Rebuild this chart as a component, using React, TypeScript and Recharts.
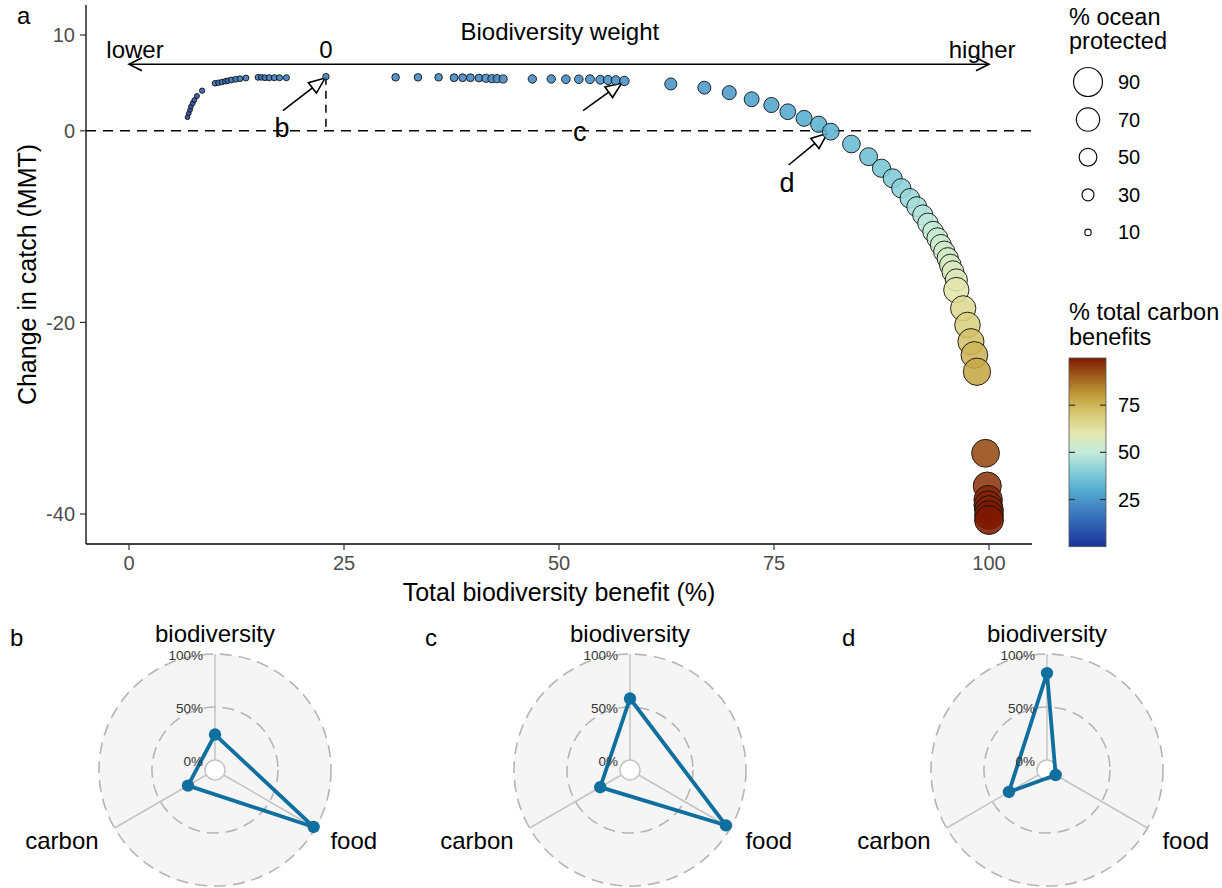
import React from 'react';
import {
  ScatterChart, Scatter, XAxis, YAxis, ReferenceLine, ReferenceDot, Label,
  RadarChart, Radar, PolarGrid, PolarAngleAxis, PolarRadiusAxis,
} from 'recharts';

const FONT = '"Liberation Sans", Arial, Helvetica, sans-serif';

// ---------- Panel a data ----------
const biodiversityBenefit = [
  6.8, 6.95, 7.1, 7.2, 7.4, 7.6, 7.9, 8.5,
  10.0, 10.4, 10.8, 11.2, 11.5, 11.9, 12.4, 12.9, 13.6, 15.0, 15.4, 15.8, 16.3, 16.9, 17.5, 18.3,
  22.9,
  31.0, 33.6, 36.0, 37.8, 38.8, 39.7, 40.7, 41.5, 42.2, 42.8, 43.5, 46.9, 49.1, 50.8, 52.3, 53.6, 54.8, 55.7, 56.6, 57.6,
  63.0, 66.9, 69.8, 72.4, 74.7, 76.6, 78.5, 80.2, 81.6, 84.0, 86.0, 87.5,
  88.8, 89.8, 90.8, 91.6, 92.3, 92.9, 93.5, 94.0, 94.4, 94.8, 95.2, 95.5, 95.8, 96.2,
  96.2, 97.0, 97.5, 97.9, 98.3, 98.6,
  99.6, 99.8, 99.9, 99.9, 100, 100, 100,
];
const catchChange = [
  1.41, 1.83, 2.17, 2.52, 2.87, 3.2, 3.63, 4.19,
  4.96, 5.02, 5.09, 5.17, 5.23, 5.3, 5.38, 5.44, 5.51, 5.58, 5.58, 5.54, 5.54, 5.54, 5.54, 5.54,
  5.65,
  5.58, 5.58, 5.58, 5.54, 5.54, 5.54, 5.51, 5.48, 5.44, 5.44, 5.41, 5.41, 5.41, 5.38, 5.38, 5.38, 5.33, 5.3, 5.27, 5.2,
  4.89, 4.5, 3.98, 3.29, 2.69, 1.99, 1.3, 0.68, -0.09, -1.38, -2.7, -3.91,
  -4.96, -6.0, -7.05, -7.92, -8.79, -9.66, -10.53, -11.22, -11.92, -12.62, -13.31, -14.01, -14.71, -15.57,
  -16.62, -18.53, -20.27, -22.01, -23.4, -25.15,
  -33.66, -37.08, -38.5, -39.06, -39.58, -40.1, -40.63,
];
const oceanProtected = [
  4, 4, 4, 4, 5, 5, 5, 6,
  7, 7, 7, 7, 7, 8, 8, 8, 8, 8, 8, 8, 9, 9, 9, 9,
  10,
  14, 14, 14, 15, 15, 15, 15, 16, 16, 16, 16, 17, 17, 18, 18, 19, 19, 20, 20, 21,
  30, 33, 37, 40, 41, 43, 44, 45, 47, 50, 51, 52,
  55, 56, 57, 58, 59, 60, 61, 62, 62, 63, 63, 64, 65, 66,
  77, 77, 78, 80, 82, 84,
  86, 87, 88, 88, 89, 89, 90,
];
const carbonBenefit = [
  4, 4, 5, 5, 6, 7, 8, 10,
  14, 14, 15, 15, 15, 16, 16, 16, 17, 17, 17, 17, 18, 18, 18, 18,
  20,
  21, 21, 21, 21, 21, 21, 21, 22, 22, 22, 22, 22, 22, 22, 22, 23, 23, 23, 23, 23,
  24, 25, 26, 27, 28, 29, 30, 31, 32, 34, 35, 37,
  39, 41, 43, 45, 47, 49, 51, 52, 53, 54, 55, 56, 57, 58,
  61, 65, 68, 72, 75, 78,
  93, 96, 98, 99, 99, 100, 100,
];

const xTicks = [0, 25, 50, 75, 100];
const yTicks = [-40, -20, 0, 10];
const sizeBreaks = [90, 70, 50, 30, 10];
const colorBreaks = [75, 50, 25];

// ---------- Panels b-d data ----------
const radarAxes = ['biodiversity', 'food', 'carbon'];
const radarB = [24, 98, 20];
const radarC = [58, 95, 23];
const radarD = [82, 0, 32];
const radarPanels = [
  { id: 'b', values: radarB },
  { id: 'c', values: radarC },
  { id: 'd', values: radarD },
];

// ---------- scales ----------
const COLOR_STOPS: [number, string][] = [
  [0, '#1A3399'], [10, '#2D5AB0'], [20, '#3F82C1'], [30, '#55ACD0'], [40, '#84CFD8'],
  [50, '#C3EADA'], [60, '#E3E8B2'], [70, '#D8CA74'], [80, '#C29E3B'], [90, '#A0601C'], [100, '#7E1900'],
];
const hexRgb = (h: string) => [1, 3, 5].map((i) => parseInt(h.slice(i, i + 2), 16));
function carbonColor(v: number): string {
  const t = Math.max(0, Math.min(100, v));
  for (let i = 0; i < COLOR_STOPS.length - 1; i++) {
    const [a, ca] = COLOR_STOPS[i];
    const [b, cb] = COLOR_STOPS[i + 1];
    if (t <= b) {
      const f = (t - a) / (b - a);
      const A = hexRgb(ca), B = hexRgb(cb);
      const c = A.map((x, k) => Math.round(x + (B[k] - x) * f));
      return `rgb(${c[0]},${c[1]},${c[2]})`;
    }
  }
  return COLOR_STOPS[COLOR_STOPS.length - 1][1];
}
const pointRadius = (p: number) => 1.79 + 0.141 * p;

const scatterRows = biodiversityBenefit.map((x, i) => ({
  x, y: catchChange[i], protected: oceanProtected[i], carbon: carbonBenefit[i],
}));

// ---------- shapes ----------
const Bubble = (props: any) => {
  const { cx, cy, payload } = props;
  if (cx == null || cy == null) return null;
  return (
    <circle cx={cx} cy={cy} r={pointRadius(payload.protected)} fill={carbonColor(payload.carbon)}
      fillOpacity={0.88} stroke="#111" strokeOpacity={0.9} strokeWidth={1} />
  );
};

const DoubleArrow = (p: any) => {
  const { x1, y1, x2, y2 } = p;
  const L = 13, W = 6.5;
  const a = Math.min(x1, x2), b = Math.max(x1, x2), y = y1;
  return (
    <g>
      <line x1={a} y1={y} x2={b} y2={y2} stroke="#000" strokeWidth={1.6} />
      <polyline points={`${a + L},${y - W} ${a},${y} ${a + L},${y + W}`} fill="none" stroke="#000" strokeWidth={1.6} />
      <polyline points={`${b - L},${y - W} ${b},${y} ${b - L},${y + W}`} fill="none" stroke="#000" strokeWidth={1.6} />
    </g>
  );
};

const PointerArrow = (p: any) => {
  const { x1, y1, x2, y2 } = p;
  const dx = x2 - x1, dy = y2 - y1;
  const len = Math.hypot(dx, dy) || 1;
  const ux = dx / len, uy = dy / len;
  const L = 16, W = 6.5;
  const bx = x2 - ux * L, by = y2 - uy * L;
  const px = -uy, py = ux;
  return (
    <g>
      <line x1={x1} y1={y1} x2={bx} y2={by} stroke="#000" strokeWidth={1.6} />
      <polygon points={`${x2},${y2} ${bx + px * W},${by + py * W} ${bx - px * W},${by - py * W}`}
        fill="#fff" stroke="#000" strokeWidth={1.6} strokeLinejoin="miter" />
    </g>
  );
};

const textShape = (text: string, size: number) => (p: any) => (
  <text x={p.cx} y={p.cy} textAnchor="middle" dominantBaseline="central" fontSize={size}
    fontFamily={FONT} fill="#000">{text}</text>
);

const annotations = [
  { label: 'b', from: { x: 17.9, y: 2.1 }, to: { x: 22.8, y: 5.5 }, at: { x: 17.8, y: 0.25 } },
  { label: 'c', from: { x: 52.8, y: 2.1 }, to: { x: 57.3, y: 5.0 }, at: { x: 52.4, y: -0.15 } },
  { label: 'd', from: { x: 76.7, y: -3.57 }, to: { x: 81.2, y: -0.26 }, at: { x: 76.5, y: -5.4 } },
];

// ---------- radar ticks ----------
const RADAR_BLUE = '#0f6f9e';
const AngleTick = (p: any) => {
  const v = p.payload?.value;
  let dx = 0, dy = -13, anchor: any = 'middle';
  if (v === 'food') { dx = 8; dy = 8; anchor = 'start'; }
  if (v === 'carbon') { dx = -9; dy = 8; anchor = 'end'; }
  return (
    <text x={p.x + dx} y={p.y + dy} textAnchor={anchor} dominantBaseline="central"
      fontSize={24} fontFamily={FONT} fill="#000">{v}</text>
  );
};
const RadiusTick = (p: any) => (
  <text x={p.x - 12} y={p.y + 1} textAnchor="end" dominantBaseline="central" fontSize={13.5}
    fontFamily={FONT} fill="#333">{`${p.payload?.value}%`}</text>
);
const RadarDot = (p: any) => (
  p.cx == null ? null : <circle cx={p.cx} cy={p.cy} r={6.2} fill={RADAR_BLUE} stroke="none" />
);

function RadarPanel({ id, values, left }: { id: string; values: number[]; left: number }) {
  const data = radarAxes.map((axis, i) => ({ axis, value: values[i] }));
  return (
    <div style={{ position: 'absolute', left, top: 620, width: 400, height: 268 }}>
      <svg width={400} height={268} style={{ position: 'absolute', left: 0, top: 0 }}>
        <circle cx={215} cy={150} r={116} fill="#f5f5f5" />
        <circle cx={215} cy={150} r={10} fill="#fff" />
      </svg>
      <div style={{ position: 'absolute', left: 0, top: 0 }}>
        <RadarChart width={400} height={268} cx={215} cy={150} innerRadius={10} outerRadius={116}
          startAngle={90} endAngle={-270} data={data} margin={{ top: 0, right: 0, bottom: 0, left: 0 }}>
          <PolarGrid gridType="circle" polarRadius={[10]} stroke="#c4c4c4" strokeWidth={1.5} />
          <PolarGrid gridType="circle" polarRadius={[63, 116]} radialLines={false} stroke="#b5b5b5"
            strokeWidth={1.6} strokeDasharray="12 7" />
          <PolarAngleAxis dataKey="axis" tick={AngleTick} axisLine={false} tickLine={false} />
          <PolarRadiusAxis angle={90} domain={[0, 100]} tickCount={3} tick={RadiusTick}
            axisLine={false} tickLine={false} />
          <Radar dataKey="value" stroke={RADAR_BLUE} strokeWidth={3.8} fill="none" fillOpacity={0}
            dot={RadarDot} isAnimationActive={false} />
        </RadarChart>
      </div>
      <div style={{ position: 'absolute', left: 10, top: 4, fontSize: 24, lineHeight: '28px' }}>{id}</div>
    </div>
  );
}

function SideLegends() {
  const barX = 1069, barW = 37, barTop = 358, barBottom = 546.7;
  const vy = (v: number) => barBottom - (v / 100) * (barBottom - barTop);
  return (
    <svg width={1222} height={600} style={{ position: 'absolute', left: 0, top: 0, pointerEvents: 'none' }}>
      <defs>
        <linearGradient id="carbonGrad" x1="0" y1="1" x2="0" y2="0">
          {COLOR_STOPS.map(([v]) => (
            <stop key={v} offset={`${v}%`} stopColor={carbonColor(v)} />
          ))}
        </linearGradient>
      </defs>
      <text x={17} y={15} dominantBaseline="central" fontSize={24} fontFamily={FONT}>a</text>
      <text x={1069} y={17} dominantBaseline="central" fontSize={23.5} fontFamily={FONT}>% ocean</text>
      <text x={1069} y={41} dominantBaseline="central" fontSize={23.5} fontFamily={FONT}>protected</text>
      {sizeBreaks.map((b, i) => {
        const cy = 82 + i * 37.6;
        return (
          <g key={b}>
            <circle cx={1088} cy={cy} r={pointRadius(b)} fill="#fff" stroke="#111" strokeWidth={1.2} />
            <text x={1118} y={cy} dominantBaseline="central" fontSize={20} fontFamily={FONT}>{b}</text>
          </g>
        );
      })}
      <text x={1069} y={312} dominantBaseline="central" fontSize={23.5} fontFamily={FONT}>% total carbon</text>
      <text x={1069} y={337} dominantBaseline="central" fontSize={23.5} fontFamily={FONT}>benefits</text>
      <rect x={barX} y={barTop} width={barW} height={barBottom - barTop} fill="url(#carbonGrad)"
        stroke="#555" strokeWidth={0.8} />
      {colorBreaks.map((b) => (
        <g key={b}>
          <line x1={barX} x2={barX + 6} y1={vy(b)} y2={vy(b)} stroke="#333" strokeWidth={1.2} />
          <line x1={barX + barW - 6} x2={barX + barW} y1={vy(b)} y2={vy(b)} stroke="#333" strokeWidth={1.2} />
          <text x={1118} y={vy(b)} dominantBaseline="central" fontSize={20} fontFamily={FONT}>{b}</text>
        </g>
      ))}
    </svg>
  );
}

export default function App() {
  return (
    <div style={{ position: 'absolute', left: 0, top: 0, width: 1222, height: 888, background: '#fff',
      fontFamily: FONT, overflow: 'hidden' }}>
      <div style={{ position: 'absolute', left: 0, top: 0 }}>
        <ScatterChart width={1040} height={610} margin={{ top: 5, right: 8, bottom: 0, left: 0 }}>
          <XAxis type="number" dataKey="x" domain={[-5, 105]} ticks={xTicks} allowDataOverflow
            height={66} tickSize={6} tickMargin={6}
            tick={{ fill: '#4d4d4d', fontSize: 20, fontFamily: FONT }}
            axisLine={{ stroke: '#000', strokeWidth: 1.3 }} tickLine={{ stroke: '#333', strokeWidth: 1.2 }}>
            <Label content={(p: any) => {
              const vb = p.viewBox || { x: 86, y: 544, width: 946 };
              return (
                <text x={vb.x + vb.width / 2} y={vb.y + 48} textAnchor="middle" dominantBaseline="central"
                  fontSize={25} fontFamily={FONT} fill="#000">Total biodiversity benefit (%)</text>
              );
            }} />
          </XAxis>
          <YAxis type="number" dataKey="y" domain={[-43.13, 13.13]} ticks={yTicks} allowDataOverflow
            width={86} tickSize={6} tickMargin={5}
            tick={{ fill: '#4d4d4d', fontSize: 20, fontFamily: FONT }}
            axisLine={{ stroke: '#000', strokeWidth: 1.3 }} tickLine={{ stroke: '#333', strokeWidth: 1.2 }}>
            <Label content={(p: any) => {
              const vb = p.viewBox || { x: 0, y: 5, width: 86, height: 539 };
              const cx = vb.x + 27, cy = vb.y + vb.height / 2;
              return (
                <text x={cx} y={cy} transform={`rotate(-90, ${cx}, ${cy})`} textAnchor="middle"
                  dominantBaseline="central" fontSize={25} fontFamily={FONT} fill="#000">Change in catch (MMT)</text>
              );
            }} />
          </YAxis>
          <ReferenceLine y={0} stroke="#000" strokeWidth={1.5} strokeDasharray="10 7" />
          <ReferenceLine segment={[{ x: 22.9, y: 5.65 }, { x: 22.9, y: 0 }]} stroke="#000"
            strokeWidth={1.5} strokeDasharray="8 6" />
          <ReferenceLine segment={[{ x: 0, y: 6.95 }, { x: 100, y: 6.95 }]} shape={DoubleArrow} />
          <ReferenceDot x={50.1} y={10.4} r={0} shape={textShape('Biodiversity weight', 24)} />
          <ReferenceDot x={0.7} y={8.5} r={0} shape={textShape('lower', 24)} />
          <ReferenceDot x={99.2} y={8.5} r={0} shape={textShape('higher', 24)} />
          <ReferenceDot x={22.9} y={8.45} r={0} shape={textShape('0', 24)} />
          <Scatter data={scatterRows} shape={Bubble} isAnimationActive={false} />
          {annotations.map((a) => (
            <ReferenceLine key={`arr-${a.label}`} segment={[a.from, a.to]} shape={PointerArrow} />
          ))}
          {annotations.map((a) => (
            <ReferenceDot key={`lab-${a.label}`} x={a.at.x} y={a.at.y} r={0} shape={textShape(a.label, 27)} />
          ))}
        </ScatterChart>
      </div>
      <SideLegends />
      {radarPanels.map((p, i) => (
        <RadarPanel key={p.id} id={p.id} values={p.values} left={[0, 415, 832][i]} />
      ))}
    </div>
  );
}
